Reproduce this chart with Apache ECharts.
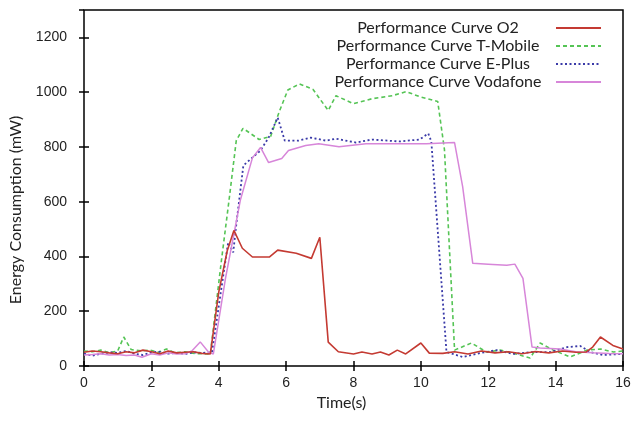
<!DOCTYPE html>
<html>
<head>
<meta charset="utf-8">
<script src="https://cdn.jsdelivr.net/npm/echarts@6/dist/echarts.min.js"></script>
<style>
  html, body { margin: 0; padding: 0; background: #fff; }
  #chart { width: 636px; height: 425px; }
</style>
</head>
<body>
<div id="chart"></div>
<script>
// values, time in seconds, power in mW
const o2Time = [0, 0.25, 0.5, 0.75, 1.0, 1.25, 1.5, 1.75, 2.0, 2.25, 2.5, 2.75, 3.0, 3.25, 3.5, 3.75, 4.0, 4.25, 4.45, 4.7, 5.0, 5.5, 5.75, 6.3, 6.75, 7.0, 7.25, 7.55, 8.0, 8.25, 8.55, 8.8, 9.05, 9.3, 9.55, 10.0, 10.25, 10.65, 11.0, 11.4, 11.8, 12.2, 12.6, 13.0, 13.4, 13.8, 14.2, 14.6, 14.9, 15.1, 15.33, 15.7, 16];
const o2Values = [50, 55, 52, 48, 45, 52, 48, 58, 52, 45, 55, 48, 50, 52, 46, 44, 270, 420, 495, 430, 398, 398, 423, 412, 393, 470, 87, 52, 44, 51, 44, 51, 40, 58, 44, 84, 47, 46, 52, 44, 55, 48, 52, 45, 53, 48, 55, 50, 51, 69, 106, 75, 62];

const tmobileTime = [0, 0.25, 0.5, 0.75, 1.0, 1.18, 1.4, 1.7, 1.95, 2.2, 2.45, 2.7, 3.0, 3.3, 3.75, 4.08, 4.3, 4.52, 4.72, 5.2, 5.54, 5.8, 6.05, 6.4, 6.8, 7.25, 7.48, 8.0, 8.55, 9.15, 9.57, 9.95, 10.5, 10.7, 11.0, 11.5, 11.95, 12.35, 12.8, 13.24, 13.54, 13.93, 14.43, 14.94, 15.33, 15.72, 16];
const tmobileValues = [55, 52, 58, 48, 55, 106, 60, 55, 58, 50, 62, 48, 52, 45, 44, 386, 600, 823, 868, 827, 838, 930, 1008, 1030, 1010, 933, 987, 958, 976, 987, 1002, 984, 966, 790, 58, 84, 51, 58, 45, 29, 84, 58, 33, 58, 62, 51, 55];

const eplusTime = [0, 0.25, 0.5, 0.75, 1.0, 1.25, 1.5, 1.75, 2.0, 2.25, 2.5, 2.75, 3.0, 3.25, 3.5, 3.8, 4.05, 4.28, 4.43, 4.5, 4.73, 4.97, 5.24, 5.48, 5.75, 5.96, 6.37, 6.73, 7.18, 7.48, 8.07, 8.55, 9.36, 9.96, 10.22, 10.31, 10.76, 11.24, 11.75, 12.25, 12.73, 13.33, 13.84, 14.34, 14.73, 15.03, 15.42, 15.93, 16];
const eplusValues = [45, 38, 45, 50, 48, 55, 45, 40, 50, 52, 45, 48, 44, 50, 48, 50, 260, 452, 415, 495, 732, 758, 787, 834, 907, 823, 823, 834, 823, 830, 816, 827, 820, 827, 849, 820, 51, 33, 47, 58, 44, 51, 51, 69, 73, 51, 40, 44, 44];

const vodafoneTime = [0, 0.25, 0.5, 0.75, 1.0, 1.25, 1.5, 1.72, 2.0, 2.25, 2.5, 2.75, 3.0, 3.2, 3.45, 3.7, 3.84, 4.2, 4.64, 5.0, 5.24, 5.48, 5.87, 6.07, 6.58, 6.97, 7.57, 8.37, 9.27, 10.16, 11.0, 11.24, 11.54, 12.0, 12.55, 12.79, 13.03, 13.3, 13.54, 14.13, 14.6, 15.1, 15.6, 16];
const vodafoneValues = [40, 42, 45, 40, 42, 38, 40, 32, 45, 40, 48, 44, 45, 55, 88, 50, 44, 320, 605, 760, 798, 743, 758, 787, 805, 812, 801, 812, 812, 812, 816, 655, 375, 372, 368, 372, 320, 69, 66, 62, 52, 48, 46, 45];

const seriesNames = ['Performance Curve O2', 'Performance Curve T-Mobile', 'Performance Curve E-Plus', 'Performance Curve Vodafone'];

const pairs = (t, v) => t.map((x, i) => [x, v[i]]);

const chart = echarts.init(document.getElementById('chart'));

const tickStyle = { inside: true, length: 5, lineStyle: { color: '#000', width: 1.5 } };

const option = {
  backgroundColor: '#fff',
  animation: false,
  grid: {
    left: 84,
    right: 13,
    top: 10,
    bottom: 59,
    show: true,
    borderColor: '#000',
    borderWidth: 1.5,
  },
  legend: {
    orient: 'vertical',
    right: 29,
    top: 15,
    align: 'right',
    itemWidth: 45,
    itemHeight: 14,
    itemGap: 2,
    data: seriesNames,
    itemStyle: { opacity: 0 },
    formatter: (name) => '{c|' + name + '}',
    textStyle: {
      rich: {
        c: { width: 226, align: 'center', fontFamily: 'Lato', fontSize: 16, color: '#222' },
      },
    },
  },
  xAxis: [
    {
      type: 'value',
      min: 0,
      max: 16,
      interval: 2,
      name: 'Time(s)',
      nameLocation: 'middle',
      nameGap: 26,
      nameTextStyle: { fontFamily: 'Lato', fontSize: 16, color: '#222', padding: [0, 24, 0, 0] },
      axisLine: { show: false },
      axisTick: tickStyle,
      axisLabel: { fontFamily: 'Liberation Sans', fontSize: 14, color: '#222', margin: 10 },
      splitLine: { show: false },
    },
    {
      type: 'value',
      position: 'top',
      min: 0,
      max: 16,
      interval: 2,
      axisLine: { show: false },
      axisTick: tickStyle,
      axisLabel: { show: false },
      splitLine: { show: false },
    },
  ],
  yAxis: [
    {
      type: 'value',
      min: 0,
      max: 1300,
      interval: 200,
      name: 'Energy Consumption (mW)',
      nameLocation: 'middle',
      nameGap: 60,
      nameTextStyle: { fontFamily: 'Lato', fontSize: 16, color: '#222', padding: [0, 44, 0, 0] },
      axisLine: { show: false },
      axisTick: tickStyle,
      axisLabel: {
        fontFamily: 'Liberation Sans',
        fontSize: 14,
        color: '#222',
        margin: 17,
        showMaxLabel: false,
        formatter: (v) => String(v),
      },
      splitLine: { show: false },
    },
    {
      type: 'value',
      position: 'right',
      min: 0,
      max: 1300,
      interval: 200,
      axisLine: { show: false },
      axisTick: tickStyle,
      axisLabel: { show: false },
      splitLine: { show: false },
    },
  ],
  series: [
    {
      name: seriesNames[1],
      type: 'line',
      data: pairs(tmobileTime, tmobileValues),
      symbol: 'none',
      lineStyle: { color: '#55c455', width: 1.6, type: [4, 3] },
      itemStyle: { color: '#55c455' },
    },
    {
      name: seriesNames[2],
      type: 'line',
      data: pairs(eplusTime, eplusValues),
      symbol: 'none',
      lineStyle: { color: '#3a3aa8', width: 1.8, type: [2, 2.5] },
      itemStyle: { color: '#3a3aa8' },
    },
    {
      name: seriesNames[3],
      type: 'line',
      data: pairs(vodafoneTime, vodafoneValues),
      symbol: 'none',
      lineStyle: { color: '#d786d9', width: 1.5 },
      itemStyle: { color: '#d786d9' },
    },
    {
      name: seriesNames[0],
      type: 'line',
      data: pairs(o2Time, o2Values),
      symbol: 'none',
      lineStyle: { color: '#c43a32', width: 1.6 },
      itemStyle: { color: '#c43a32' },
    },
  ],
};

chart.setOption(option);
</script>
</body>
</html>
